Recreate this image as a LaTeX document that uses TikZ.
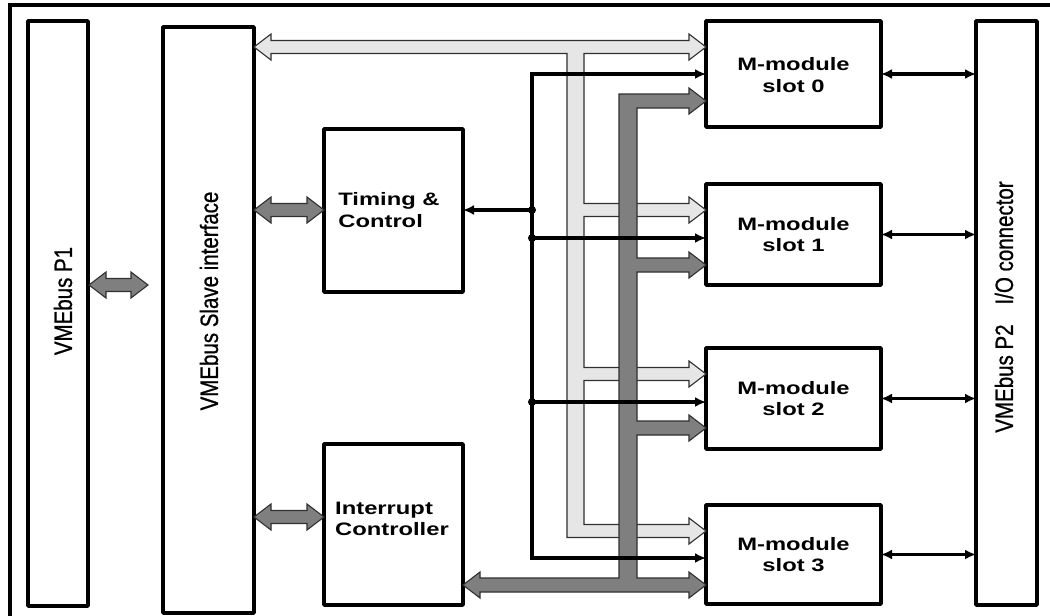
\documentclass[tikz,border=0pt]{standalone}
\usepackage{fontspec}
\setmainfont{Liberation Sans}
\newfontfamily\narrowf[FakeStretch=0.82,FakeBold=0.8]{Liberation Sans}
\newfontfamily\widef[FakeStretch=1.32]{Liberation Sans}
\usetikzlibrary{arrows.meta,calc}
\definecolor{buslight}{HTML}{E6E6E6}
\definecolor{busdark}{HTML}{7F7F7F}
\definecolor{busline}{HTML}{303030}
\tikzset{
  blk/.style={draw=black, line width=3.6pt, fill=white, inner sep=0pt, outer sep=0pt, line join=round},
  vlabel/.style={rotate=90, font=\narrowf\fontsize{25}{28}\selectfont, inner sep=0pt},
  blabel/.style={font=\widef\bfseries\fontsize{18}{21.5}\selectfont, inner sep=0pt, align=center},
  lbus/.style={fill=buslight, draw=busline, line width=1.1pt, line join=miter},
  dbus/.style={fill=busdark, draw=busline, line width=1.1pt, line join=miter},
  sig/.style={draw=black, line width=3.6pt, -{Latex[length=11pt,width=10pt]}},
  sigdbl/.style={draw=black, line width=3.6pt, {Latex[length=11pt,width=10pt]}-{Latex[length=11pt,width=10pt]}},
}
% fat double arrow: #1 style, #2 x-left, #3 x-right, #4 y
\newcommand{\fatdbl}[4]{%
  \draw[#1] (#2,#4) -- ({#2+17},{#4-13}) -- ({#2+17},{#4-6.5}) -- ({#3-17},{#4-6.5})
    -- ({#3-17},{#4-13}) -- (#3,#4) -- ({#3-17},{#4+13}) -- ({#3-17},{#4+6.5})
    -- ({#2+17},{#4+6.5}) -- ({#2+17},{#4+13}) -- cycle;}
\begin{document}
\begin{tikzpicture}[x=1pt,y=-1pt]
\useasboundingbox (0,0) rectangle (1050,616);
\clip (0,0) rectangle (1050,616);
\fill[white] (0,0) rectangle (1050,616);
% outer frame (cropped at right and bottom)
\draw[line width=3.6pt] (10,640) -- (10,5) -- (1070,5);

% blocks
\node[blk, minimum width=60pt,  minimum height=585pt] (p1)    at (58,313.5) {};
\node[blk, minimum width=91pt,  minimum height=586pt] (slave) at (208.5,320) {};
\node[blk, minimum width=139pt, minimum height=163pt] (tim)   at (393.5,210.5) {};
\node[blk, minimum width=139pt, minimum height=161pt] (irq)   at (393.5,524.5) {};
\node[blk, minimum width=175pt, minimum height=106pt] (s0)    at (793.5,74) {};
\node[blk, minimum width=175pt, minimum height=101pt] (s1)    at (793.5,234.5) {};
\node[blk, minimum width=175pt, minimum height=101pt] (s2)    at (793.5,398.5) {};
\node[blk, minimum width=175pt, minimum height=99pt]  (s3)    at (793.5,554.5) {};
\node[blk, minimum width=61pt,  minimum height=584pt] (p2)    at (1006.5,313) {};

% light (address/data) bus
\draw[lbus] (254,47) -- (271,34) -- (271,40.5) -- (689,40.5) -- (689,34) -- (706,47)
  -- (689,60) -- (689,53.5) -- (584,53.5)
  -- (584,203.5) -- (689,203.5) -- (689,197) -- (706,210) -- (689,223) -- (689,216.5) -- (584,216.5)
  -- (584,367.5) -- (689,367.5) -- (689,361) -- (706,374) -- (689,387) -- (689,380.5) -- (584,380.5)
  -- (584,524.5) -- (689,524.5) -- (689,518) -- (706,531) -- (689,544) -- (689,537.5) -- (567,537.5)
  -- (567,53.5) -- (271,53.5) -- (271,60) -- cycle;

% dark (interrupt) bus
\draw[dbus] (619,94) -- (689,94) -- (689,88) -- (706,101) -- (689,114) -- (689,108) -- (637,108)
  -- (637,258) -- (689,258) -- (689,252) -- (706,265) -- (689,278) -- (689,272) -- (637,272)
  -- (637,421) -- (689,421) -- (689,415) -- (706,428) -- (689,441) -- (689,435) -- (637,435)
  -- (637,578) -- (689,578) -- (689,572) -- (706,585) -- (689,598) -- (689,592)
  -- (480,592) -- (480,598) -- (463,585) -- (480,572) -- (480,578) -- (619,578) -- cycle;

% fat double arrows
\fatdbl{dbus}{89}{148}{285}
\fatdbl{dbus}{254}{324}{210}
\fatdbl{dbus}{254}{324}{517}

% control lines
\coordinate (c0) at (532,74);
\coordinate (ct) at (532,210);
\coordinate (c1) at (532,238);
\coordinate (c2) at (532,402);
\coordinate (c3) at (532,558);
\draw[line width=3.6pt, line join=miter] ($(c0 -| s0.west)+(-8,0)$) -- (c0) -- (c3) -- ($(c3 -| s3.west)+(-8,0)$);
\draw[sig] (c0) -- (c0 -| s0.west);
\draw[sig] (c3) -- (c3 -| s3.west);
\draw[sig] (c1) -- (c1 -| s1.west);
\draw[sig] (c2) -- (c2 -| s2.west);
\draw[sig] (ct) -- (ct -| tim.east);
\fill (ct) circle (4pt);
\fill (c1) circle (4pt);
\fill (c2) circle (4pt);

% I/O to P2
\draw[sigdbl] (s0.east) -- (s0.east -| p2.west);
\draw[sigdbl] (s1.east) -- (s1.east -| p2.west);
\draw[sigdbl] (s2.east) -- (s2.east -| p2.west);
\draw[sigdbl] (s3.east) -- (s3.east -| p2.west);

% labels
\node[vlabel] (p1t) at (63,301) {VMEbus P1};
\node[vlabel] (slt) at (209,301) {VMEbus Slave interface};
\node[vlabel] (p2t) at (1004,307) {VMEbus P2\hspace{0.8em}I/O connector};
\node[blabel, align=left] (timt) at (389,210) {Timing \&\\Control};
\node[blabel, align=left] (irqt) at (392,519) {Interrupt\\Controller};
\node[blabel] (s0t) at (793.5,75) {M-module\\slot 0};
\node[blabel] (s1t) at (793.5,234.5) {M-module\\slot 1};
\node[blabel] (s2t) at (793.5,398.5) {M-module\\slot 2};
\node[blabel] (s3t) at (793.5,554.5) {M-module\\slot 3};
\end{tikzpicture}
\end{document}
